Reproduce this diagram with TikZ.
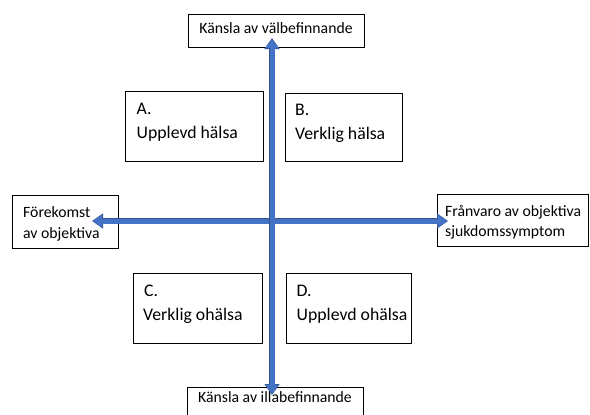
\documentclass[tikz,border=0pt]{standalone}
\usepackage{fontspec}
\setmainfont{Carlito}
\usetikzlibrary{arrows.meta}
\definecolor{arrowblue}{HTML}{4472C4}
\definecolor{arrowedge}{HTML}{2F528F}
\begin{document}
\begin{tikzpicture}[x=1bp,y=-1bp,
  box/.style={draw=black, line width=0.8bp, fill=white, inner sep=0pt, anchor=north west},
  axistext/.style={font=\fontsize{15.8}{19}\selectfont, inner sep=0pt},
  labeltext/.style={font=\fontsize{17.8}{21}\selectfont, inner sep=0pt, anchor=base west},
  arrowout/.style={draw=arrowedge, line width=6.6bp,
    {Triangle[length=11bp, width=14.5bp, color=arrowedge]}-{Triangle[length=11bp, width=14.5bp, color=arrowedge]}},
  arrowin/.style={draw=arrowblue, line width=5bp, shorten <=0.8bp, shorten >=0.8bp,
    {Triangle[length=9.6bp, width=12.5bp, color=arrowblue]}-{Triangle[length=9.6bp, width=12.5bp, color=arrowblue]}}]
\useasboundingbox (0,0) rectangle (590,414);
\fill[white] (0,0) rectangle (590,414);

% axis boxes
\node[box, minimum width=176bp, minimum height=33bp] (topbox) at (188,14) {};
\node[axistext, anchor=base] (toptext) at (276,33) {Känsla av välbefinnande};

\node[box, minimum width=176bp, minimum height=40bp] (botbox) at (187,387) {};
\node[axistext, anchor=base] (bottext) at (275,402.5) {Känsla av illabefinnande};

\node[box, minimum width=106bp, minimum height=53bp] (leftbox) at (12,195) {};
\node[axistext, anchor=base west] (lefttext1) at (23,217) {Förekomst};
\node[axistext, anchor=base west] (lefttext2) at (23,238.5) {av objektiva};

\node[box, minimum width=151bp, minimum height=52bp] (rightbox) at (437,194) {};
\node[axistext, anchor=base west] (righttext1) at (445,216.5) {Frånvaro av objektiva};
\node[axistext, anchor=base west] (righttext2) at (445,236) {sjukdomssymptom};

% quadrant boxes
\node[box, minimum width=138bp, minimum height=70bp] (boxA) at (125,91) {};
\node[labeltext] (a1) at (136.5,114.7) {A.};
\node[labeltext] (a2) at (136.5,138.7) {Upplevd hälsa};

\node[box, minimum width=117bp, minimum height=68bp] (boxB) at (285,93) {};
\node[labeltext] (b1) at (295,115) {B.};
\node[labeltext] (b2) at (295,139) {Verklig hälsa};

\node[box, minimum width=129bp, minimum height=70bp] (boxC) at (133,273) {};
\node[labeltext] (c1) at (144,296) {C.};
\node[labeltext] (c2) at (143,320.5) {Verklig ohälsa};

\node[box, minimum width=125bp, minimum height=70bp] (boxD) at (286,273) {};
\node[labeltext] (d1) at (296.5,296) {D.};
\node[labeltext] (d2) at (296.5,320.5) {Upplevd ohälsa};

% arrows
\coordinate (hl) at (92,221);
\coordinate (hr) at (448,221);
\coordinate (vt) at (272,38);
\coordinate (vb) at (272,395);
\draw[arrowout] (hl) -- (hr);
\draw[arrowin] (hl) -- (hr);
\draw[arrowout] (vt) -- (vb);
\draw[arrowin] (vt) -- (vb);
\end{tikzpicture}
\end{document}
